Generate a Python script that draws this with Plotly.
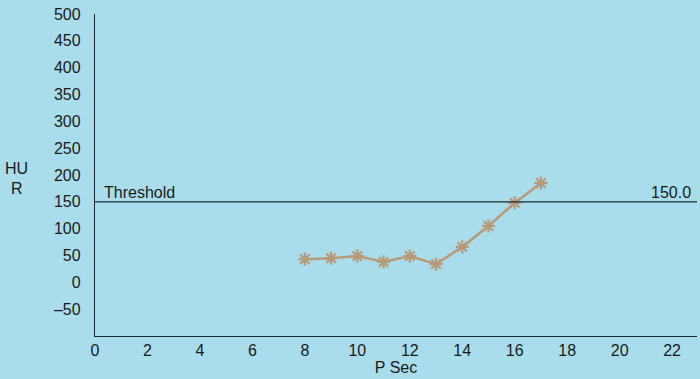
import plotly.graph_objects as go

x_sec = [8, 9, 10, 11, 12, 13, 14, 15, 16, 17]
hu_values = [43, 45, 49, 38, 49, 34, 66, 105, 148, 185]
threshold = 150.0
y_ticks = [-50, 0, 50, 100, 150, 200, 250, 300, 350, 400, 450, 500]
x_ticks = [0, 2, 4, 6, 8, 10, 12, 14, 16, 18, 20, 22]

bg = "#a9ddeb"
col = "#b89a78"
fnt = dict(family="Liberation Sans, Arial, sans-serif", size=16, color="#1a1a1a")

fig = go.Figure()
fig.add_trace(go.Scatter(
    x=x_sec, y=hu_values, mode="lines+markers",
    line=dict(color=col, width=2.5),
    marker=dict(symbol="asterisk-open", size=11, color=col, line=dict(color=col, width=2.2)),
    showlegend=False,
))
fig.add_shape(type="line", xref="x", yref="y", x0=0, x1=22.95, y0=threshold, y1=threshold,
              line=dict(color="#1a2a33", width=1.3))
fig.add_annotation(x=0.25, y=threshold, xref="x", yref="y", text="Threshold", showarrow=False,
                   xanchor="left", yanchor="bottom", yshift=-1, font=fnt)
fig.add_annotation(x=22.8, y=threshold, xref="x", yref="y", text=f"{threshold:.1f}", showarrow=False,
                   xanchor="right", yanchor="bottom", yshift=-1, font=fnt)
fig.update_layout(
    width=700, height=379,
    margin=dict(l=95, r=3, t=14, b=43),
    paper_bgcolor=bg, plot_bgcolor=bg,
    font=fnt,
    xaxis=dict(range=[0, 22.95], tickvals=x_ticks, showgrid=False, zeroline=False,
               showline=True, linecolor="#1a2a33", linewidth=1.3, ticks="",
               title=dict(text="P Sec", font=fnt, standoff=0), tickfont=fnt),
    yaxis=dict(range=[-100, 500], tickvals=y_ticks,
               ticktext=[("\u2013" + str(-v)) if v < 0 else str(v) for v in y_ticks],
               showgrid=False, zeroline=False,
               showline=True, linecolor="#1a2a33", linewidth=1.3, ticks="", ticklabelstandoff=10,
               tickfont=fnt),
)
fig.add_annotation(x=-0.13, y=0.52, xref="paper", yref="paper", text="HU", showarrow=False,
                   font=fnt, xanchor="center", yanchor="middle")
fig.add_annotation(x=-0.13, y=0.458, xref="paper", yref="paper", text="R", showarrow=False,
                   font=fnt, xanchor="center", yanchor="middle")
fig.write_html("out.html")
